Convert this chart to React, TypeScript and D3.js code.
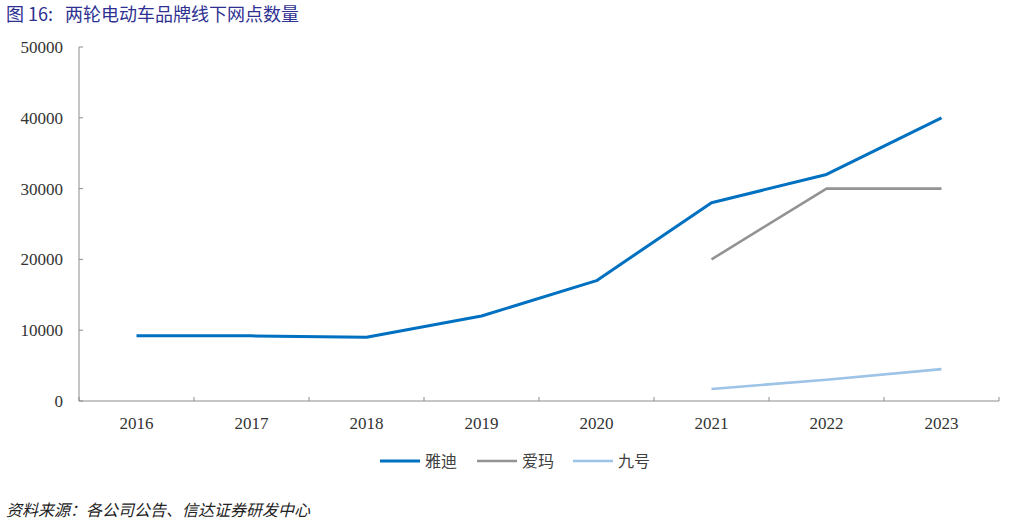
import React from "react";
import * as d3 from "d3";

const years = ["2016", "2017", "2018", "2019", "2020", "2021", "2022", "2023"];
const yadi = [9200, 9200, 9000, 12000, 17000, 28000, 32000, 40000];
const aima = [null, null, null, null, null, 20000, 30000, 30000];
const jiuhao = [null, null, null, null, null, 1700, 3000, 4500];
const yTicks = [0, 10000, 20000, 30000, 40000, 50000];
const seriesNames = ["雅迪", "爱玛", "九号"];
const seriesColors = ["#0070C0", "#939393", "#9DC3E6"];

export default function App() {
  const W = 1026, H = 524;
  const x = d3.scaleBand<string>().domain(years).range([79, 999]);
  const y = d3.scaleLinear().domain([0, 50000]).range([401, 47]);
  const seriesData = [yadi, aima, jiuhao];
  const line = d3
    .line<number | null>()
    .defined((d) => d != null)
    .x((_, i) => (x(years[i]) as number) + x.bandwidth() / 2)
    .y((d) => y(d as number));
  const widths = [3, 2.6, 2.6];
  const axisColor = "#8c8c8c";
  const boundaries = d3.range(years.length + 1).map((i) => 79 + i * x.bandwidth());
  const legendX = [380, 477, 573];

  return (
    <svg width={W} height={H} style={{ position: "absolute", left: 0, top: 0, background: "#fff" }}>
      <text x={6} y={21} fontSize={18} fill="#2E3192" fontFamily="'Noto Sans CJK SC', sans-serif">
        <tspan>图 16:</tspan>
        <tspan x={65}>两轮电动车品牌线下网点数量</tspan>
      </text>
      {/* y axis */}
      <line x1={79} x2={79} y1={y(50000)} y2={y(0)} stroke={axisColor} strokeWidth={1} />
      {yTicks.map((t) => (
        <g key={t}>
          <line x1={79} x2={83} y1={y(t)} y2={y(t)} stroke={axisColor} />
          <text
            x={63}
            y={y(t)}
            dy="0.35em"
            textAnchor="end"
            fontSize={17}
            fill="#333"
            fontFamily="'Liberation Serif', serif"
          >
            {t}
          </text>
        </g>
      ))}
      {/* x axis */}
      <line x1={79} x2={999} y1={y(0)} y2={y(0)} stroke={axisColor} strokeWidth={1} />
      {boundaries.map((b, i) => (
        <line key={i} x1={b} x2={b} y1={y(0)} y2={y(0) - 4} stroke={axisColor} />
      ))}
      {years.map((yr) => (
        <text
          key={yr}
          x={(x(yr) as number) + x.bandwidth() / 2}
          y={429}
          textAnchor="middle"
          fontSize={17}
          fill="#333"
          fontFamily="'Liberation Serif', serif"
        >
          {yr}
        </text>
      ))}
      {seriesData.map((s, i) => (
        <path
          key={i}
          d={line(s) || ""}
          fill="none"
          stroke={seriesColors[i]}
          strokeWidth={widths[i]}
          strokeLinejoin="round"
        />
      ))}
      {seriesNames.map((n, i) => (
        <g key={n}>
          <line x1={legendX[i]} x2={legendX[i] + 40} y1={461} y2={461} stroke={seriesColors[i]} strokeWidth={widths[i]} />
          <text
            x={legendX[i] + 45}
            y={461}
            dy="0.35em"
            fontSize={16}
            fill="#404040"
            fontFamily="'Noto Sans CJK SC', sans-serif"
          >
            {n}
          </text>
        </g>
      ))}
      <text
        x={6}
        y={516}
        fontSize={16}
        fill="#222"
        fontStyle="italic"
        fontFamily="'Noto Sans CJK SC', serif"
      >
        资料来源：各公司公告、信达证券研发中心
      </text>
    </svg>
  );
}
